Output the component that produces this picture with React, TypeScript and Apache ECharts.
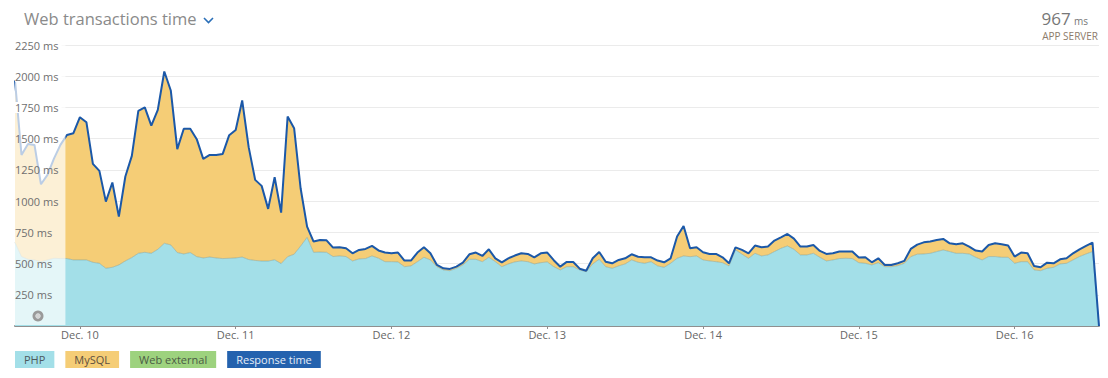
import React, { useEffect, useRef } from "react";
import * as echarts from "echarts";

// Hourly samples starting Dec. 9 14:00
const START_DAY = 9;
const START_HOUR = 14;

const responseMs = [
  1966, 1370, 1458, 1450, 1135, 1210, 1340, 1450, 1530, 1544,
  1672, 1632, 1298, 1242, 996, 1149, 876, 1197, 1362, 1723,
  1750, 1605, 1731, 2038, 1886, 1416, 1579, 1579, 1496, 1338,
  1370, 1370, 1378, 1528, 1570, 1806, 1432, 1170, 1122, 938,
  1191, 908, 1677, 1584, 1103, 796, 676, 689, 686, 628,
  630, 622, 582, 609, 617, 641, 605, 588, 582, 588,
  524, 524, 588, 630, 582, 489, 462, 457, 475, 507,
  574, 588, 561, 614, 542, 510, 542, 564, 582, 577,
  550, 582, 588, 527, 475, 513, 513, 459, 443, 542,
  593, 515, 502, 529, 542, 574, 555, 550, 550, 524,
  510, 542, 716, 801, 622, 630, 590, 577, 577, 550,
  502, 630, 609, 582, 644, 630, 636, 684, 710, 737,
  700, 636, 636, 649, 601, 577, 582, 596, 596, 596,
  548, 550, 510, 542, 489, 489, 502, 521, 617, 652,
  670, 676, 689, 697, 662, 654, 662, 636, 604, 596,
  649, 662, 654, 644, 556, 588, 582, 481, 470, 507,
  502, 534, 542, 582, 614, 641, 668, 0,
];

const phpMs = [
  668, 556, 534, 529, 515, 529, 542, 540, 540, 529,
  529, 529, 510, 502, 462, 470, 489, 521, 548, 582,
  590, 582, 614, 662, 649, 588, 577, 588, 555, 545,
  552, 545, 540, 542, 545, 552, 532, 525, 520, 520,
  530, 500, 555, 575, 640, 710, 590, 592, 590, 556,
  561, 556, 521, 537, 540, 561, 543, 515, 515, 513,
  475, 481, 515, 550, 529, 475, 449, 443, 462, 489,
  534, 534, 515, 550, 515, 475, 497, 513, 521, 515,
  497, 507, 513, 475, 449, 475, 475, 449, 435, 497,
  534, 475, 462, 481, 497, 529, 510, 502, 515, 481,
  470, 502, 542, 561, 555, 561, 529, 521, 515, 507,
  481, 610, 575, 542, 582, 561, 569, 596, 622, 641,
  614, 569, 569, 582, 550, 521, 529, 540, 542, 540,
  507, 502, 489, 507, 475, 475, 483, 502, 555, 575,
  577, 582, 596, 609, 596, 582, 582, 577, 550, 529,
  556, 556, 550, 550, 502, 515, 515, 449, 443, 462,
  470, 497, 502, 529, 556, 577, 596, 0,
];

const mysqlMs = [
  1298, 814, 924, 921, 620, 681, 798, 910, 990, 1015,
  1143, 1103, 788, 740, 534, 679, 387, 676, 814, 1141,
  1160, 1023, 1117, 1376, 1237, 828, 1002, 991, 941, 793,
  818, 825, 838, 986, 1025, 1254, 900, 645, 602, 418,
  661, 408, 1122, 1009, 463, 86, 86, 97, 96, 72,
  69, 66, 61, 72, 77, 80, 62, 73, 67, 75,
  49, 43, 73, 80, 53, 14, 13, 14, 13, 18,
  40, 54, 46, 64, 27, 35, 45, 51, 61, 62,
  53, 75, 75, 52, 26, 38, 38, 10, 8, 45,
  59, 40, 40, 48, 45, 45, 45, 48, 35, 43,
  40, 40, 174, 240, 67, 69, 61, 56, 62, 43,
  21, 20, 34, 40, 62, 69, 67, 88, 88, 96,
  86, 67, 67, 67, 51, 56, 53, 56, 54, 56,
  41, 48, 21, 35, 14, 14, 19, 19, 62, 77,
  93, 94, 93, 88, 66, 72, 80, 59, 54, 67,
  93, 106, 104, 94, 54, 73, 67, 32, 27, 45,
  32, 37, 40, 53, 58, 64, 72, 0,
];

const webExternalMs: number[] = [];

// number of leading samples drawn faded (outside the selected window)
const FADED_COUNT = 9;

const yTicks = { min: 0, max: 2250, interval: 250 };

const seriesNames = ["PHP", "MySQL", "Web external", "Response time"];
const seriesColors = ["#a3dfe8", "#f5cd76", "#9dd27e", "#2462ae"];
const legendTextColors = ["#4d5a5e", "#5e5040", "#4b5a45", "#e6eef8"];

const pad = (n: number) => (n < 10 ? "0" + n : "" + n);
const categories: string[] = responseMs.map((_, i) => {
  const total = START_HOUR + i;
  const day = START_DAY + Math.floor(total / 24);
  const hour = total % 24;
  return `Dec. ${day} ${pad(hour)}:00`;
});

const FONT = "'Open Sans', 'Noto Sans', sans-serif";

function baseGraphic(): any[] {
  return [
    {
      id: "title",
      type: "text",
      left: 24,
      top: 10,
      style: {
        text: "Web transactions time",
        fill: "#8a8a8a",
        font: `16.5px ${FONT}`,
      },
    },
    {
      id: "chev",
      type: "polyline",
      shape: { points: [[204, 18], [208.5, 22.5], [213, 18]] },
      style: { stroke: "#2a6fb8", lineWidth: 1.6, fill: "none" },
    },
    {
      id: "value",
      type: "text",
      right: 20,
      top: 10,
      style: {
        text: "{a|967} {b|ms}",
        rich: {
          a: { fill: "#777", font: `17px ${FONT}` },
          b: { fill: "#777", font: `10px ${FONT}`, padding: [5, 0, 0, 0] },
        },
      },
    },
    {
      id: "server",
      type: "text",
      right: 10,
      top: 31,
      style: {
        text: "APP SERVER",
        fill: "#8c7b6b",
        font: `10px ${FONT}`,
      },
    },
    {
      id: "ring",
      type: "ring",
      z: 30,
      shape: { cx: 38, cy: 316, r: 5.5, r0: 2.5 },
      style: { fill: "#9a9a9a" },
    },
    {
      id: "ringc",
      type: "circle",
      z: 30,
      shape: { cx: 38, cy: 316, r: 2.5 },
      style: { fill: "#d4d4d4" },
    },
  ];
}

export default function App() {
  const ref = useRef<HTMLDivElement>(null);

  useEffect(() => {
    if (!ref.current) return;
    document.body.style.margin = "0";
    const chart = echarts.init(ref.current, undefined, { renderer: "svg" });

    const isMidnight = (_i: number, v: string) => v.endsWith(" 00:00");

    chart.setOption({
      animation: false,
      textStyle: { fontFamily: FONT },
      grid: { left: 15, right: 9, top: 45, bottom: 52, containLabel: false },
      legend: {
        left: 5,
        top: 346,
        itemWidth: 0,
        itemHeight: 0,
        itemGap: 6,
        selectedMode: false,
        data: seriesNames.map((n, i) => ({
          name: n,
          icon: "rect",
          textStyle: {
            backgroundColor: seriesColors[i],
            color: legendTextColors[i],
            fontSize: 11,
            fontFamily: FONT,
            lineHeight: 13,
            padding: [2, 9, 2, 9],
          },
        })),
      },
      xAxis: {
        type: "category",
        data: categories,
        boundaryGap: false,
        axisLine: { lineStyle: { color: "#8f8f8f", width: 2 } },
        axisTick: {
          interval: isMidnight,
          length: 3,
          lineStyle: { color: "#8f8f8f" },
        },
        axisLabel: {
          interval: isMidnight,
          color: "#666",
          fontSize: 11,
          fontFamily: FONT,
          margin: 3,
          formatter: (v: string) => v.split(" ").slice(0, 2).join(" "),
        },
        splitLine: { show: false },
      },
      yAxis: [
        {
          type: "value",
          position: "left",
          ...yTicks,
          axisLine: { show: false },
          axisTick: { show: false },
          axisLabel: { show: false },
          splitLine: { lineStyle: { color: "#ebebeb", width: 1 } },
        },
        {
          type: "value",
          position: "left",
          offset: 0,
          ...yTicks,
          z: 20,
          axisLine: { show: false },
          axisTick: { show: false },
          splitLine: { show: false },
          axisLabel: {
            inside: true,
            margin: 0,
            color: "#6f6f6f",
            fontSize: 11,
            fontFamily: FONT,
            formatter: (v: number) =>
              v === 0 ? "" : v >= 1750 ? `{w|${v} ms}` : `${v} ms`,
            rich: {
              w: {
                backgroundColor: "#fff",
                color: "#6f6f6f",
                fontSize: 11,
                fontFamily: FONT,
                padding: [0, 3, 0, 0],
              },
            },
          },
        },
      ],
      series: [
        {
          name: "PHP",
          type: "line",
          stack: "t",
          data: phpMs,
          symbol: "none",
          color: seriesColors[0],
          lineStyle: { width: 1, color: "rgba(110,150,150,0.45)" },
          areaStyle: { color: seriesColors[0], opacity: 1 },
          z: 2,
        },
        {
          name: "MySQL",
          type: "line",
          stack: "t",
          data: mysqlMs,
          symbol: "none",
          color: seriesColors[1],
          lineStyle: { width: 0 },
          areaStyle: { color: seriesColors[1], opacity: 1 },
          z: 2,
        },
        {
          name: "Web external",
          type: "line",
          stack: "t",
          data: webExternalMs,
          symbol: "none",
          color: seriesColors[2],
          lineStyle: { width: 0 },
          areaStyle: { color: seriesColors[2], opacity: 1 },
          z: 2,
        },
        {
          name: "Response time",
          type: "line",
          data: responseMs,
          symbol: "none",
          color: seriesColors[3],
          lineStyle: { width: 2, color: "#1b58a8" },
          z: 3,
        },
      ],
      graphic: baseGraphic(),
    });

    // faded overlay over the leading samples, positioned through the axes' scales
    const x0 = chart.convertToPixel({ xAxisIndex: 0 }, categories[0]) as number;
    const x1 = chart.convertToPixel(
      { xAxisIndex: 0 },
      categories[FADED_COUNT - 1]
    ) as number;
    const yTop = chart.convertToPixel({ yAxisIndex: 0 }, yTicks.max) as number;
    const yBot = chart.convertToPixel({ yAxisIndex: 0 }, yTicks.min) as number;
    chart.setOption({
      graphic: [
        ...baseGraphic(),
        {
          id: "fade",
          type: "rect",
          z: 10,
          silent: true,
          shape: { x: x0, y: yTop - 2, width: x1 - 1.5 - x0, height: yBot - yTop + 1 },
          style: { fill: "rgba(255,255,255,0.7)" },
        },
      ],
    });

    return () => chart.dispose();
  }, []);

  return <div ref={ref} style={{ width: 1108, height: 378 }} />;
}
